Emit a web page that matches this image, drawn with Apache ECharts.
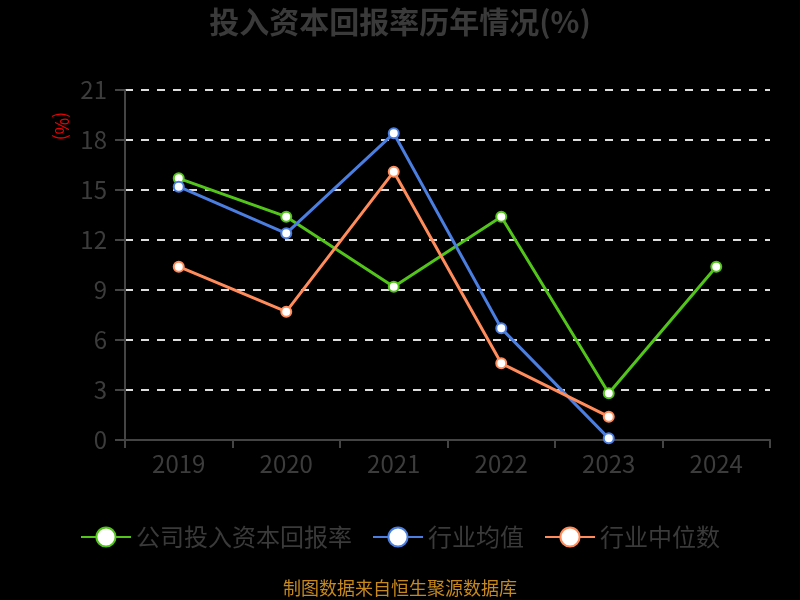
<!DOCTYPE html>
<html lang="zh-CN">
    <head>
        <meta charset="UTF-8" />
        <title>投入资本回报率历年情况</title>
        <script src="https://cdn.jsdelivr.net/npm/echarts@6/dist/echarts.min.js"></script>
        <style>
            html, body { margin: 0; padding: 0; background: #000; }
            #chart { width: 800px; height: 600px; }
        </style>
    </head>
    <body>
        <div id="chart"></div>
        <script>
            var years = ['2019', '2020', '2021', '2022', '2023', '2024'];
            var companyRate = [15.7, 13.4, 9.2, 13.4, 2.8, 10.4];
            var industryAvg = [15.2, 12.4, 18.4, 6.7, 0.1, null];
            var industryMedian = [10.4, 7.7, 16.1, 4.6, 1.4, null];
            var yTicks = [0, 3, 6, 9, 12, 15, 18, 21];

            var font = '"Noto Sans CJK SC", "Noto Sans", sans-serif';

            function line(name, data, color) {
                return {
                    name: name,
                    type: 'line',
                    data: data,
                    symbol: 'circle',
                    symbolSize: 10,
                    showAllSymbol: true,
                    lineStyle: { width: 3, color: color },
                    itemStyle: { color: '#fff', borderColor: color, borderWidth: 2 },
                    label: { show: false },
                };
            }

            var myChart = echarts.init(document.getElementById('chart'));
            var option = {
                backgroundColor: '#000',
                animation: false,
                title: [
                    {
                        text: '投入资本回报率历年情况(%)',
                        left: 'center',
                        top: 2,
                        textStyle: { color: '#3a3a3a', fontSize: 30, fontWeight: 'bold', fontFamily: font },
                    },
                    {
                        text: '制图数据来自恒生聚源数据库',
                        left: 'center',
                        bottom: -2,
                        textStyle: { color: '#c8891c', fontSize: 18, fontWeight: 'normal', fontFamily: font },
                    },
                ],
                graphic: [
                    {
                        type: 'text',
                        x: 62,
                        y: 126,
                        rotation: -Math.PI / 2,
                        style: {
                            text: '(%)',
                            fill: '#e00',
                            font: '18px ' + font,
                            align: 'center',
                            verticalAlign: 'middle',
                        },
                    },
                ],
                legend: {
                    bottom: 46,
                    left: 'center',
                    itemWidth: 50,
                    itemHeight: 24,
                    itemGap: 20,
                    textStyle: { color: '#3a3a3a', fontSize: 24, fontFamily: font },
                    data: ['公司投入资本回报率', '行业均值', '行业中位数'],
                },
                grid: { left: 125, right: 30, top: 90, bottom: 160 },
                xAxis: {
                    type: 'category',
                    data: years,
                    boundaryGap: true,
                    axisLine: { lineStyle: { color: '#444', width: 2 } },
                    axisTick: { show: true, length: 8, lineStyle: { color: '#444', width: 2 } },
                    axisLabel: { color: '#3c3c3c', fontSize: 24, margin: 12, fontFamily: font },
                },
                yAxis: {
                    type: 'value',
                    min: yTicks[0],
                    max: yTicks[yTicks.length - 1],
                    interval: 3,
                    axisLine: { show: true, lineStyle: { color: '#444', width: 2 } },
                    axisTick: { show: true, length: 10, lineStyle: { color: '#444', width: 2 } },
                    axisLabel: { color: '#3c3c3c', fontSize: 24, margin: 18, fontFamily: font },
                    splitLine: { lineStyle: { color: '#ddd', type: [8, 8], width: 2 } },
                },
                series: [
                    line('公司投入资本回报率', companyRate, '#52c41a'),
                    line('行业均值', industryAvg, '#4a7ee0'),
                    line('行业中位数', industryMedian, '#ff8c5a'),
                ],
            };
            myChart.setOption(option, true);
        </script>
    </body>
</html>
